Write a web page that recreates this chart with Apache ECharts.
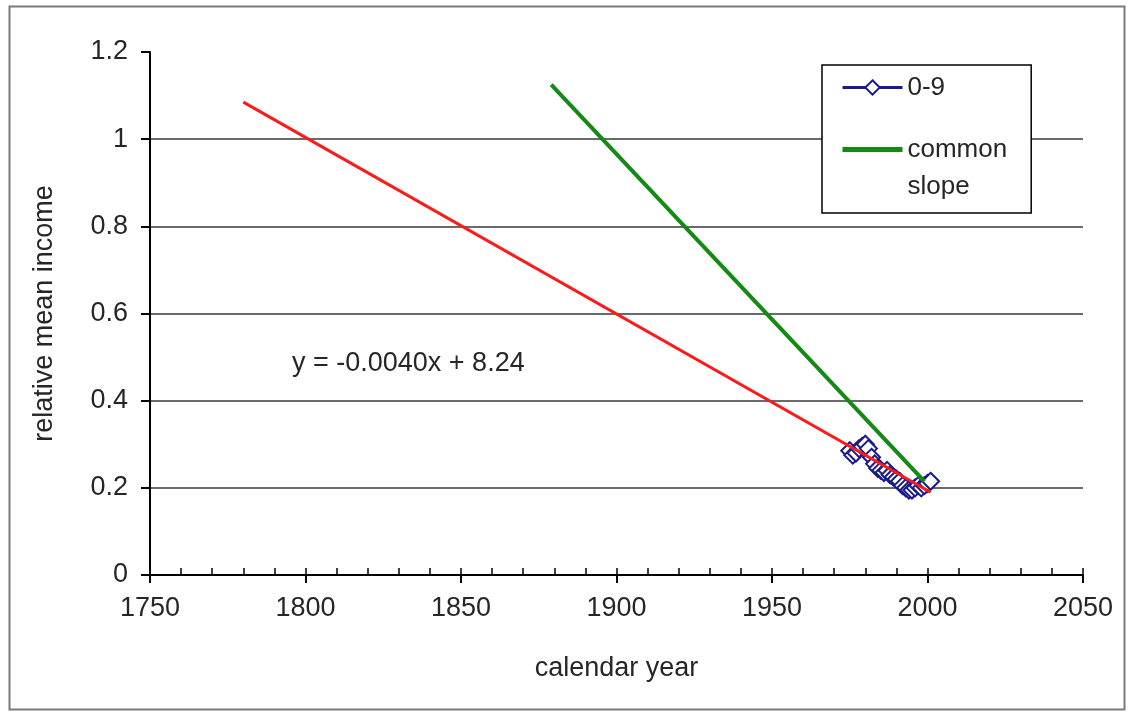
<!DOCTYPE html>
<html>
<head>
<meta charset="utf-8">
<script src="https://cdn.jsdelivr.net/npm/echarts@6/dist/echarts.min.js"></script>
<style>
html,body{margin:0;padding:0;background:#fff;}
#chart{width:1128px;height:712px;}
</style>
</head>
<body>
<div id="chart"></div>
<script>
// ---- data ----
const years09 = [1975,1976,1977,1978,1979,1980,1981,1982,1983,1984,1985,1986,1987,1988,1989,1990,1991,1992,1993,1994,1995,1996,1997,1998,1999,2000,2001];
const income09 = [0.285,0.275,0.28,0.29,0.295,0.30,0.29,0.27,0.255,0.245,0.24,0.235,0.24,0.23,0.225,0.22,0.215,0.205,0.20,0.195,0.195,0.20,0.205,0.20,0.205,0.21,0.215];
const fitYears = [1780, 2001];
const fitValues = [1.085, 0.19];
const commonYears = [1879, 1999];
const commonValues = [1.125, 0.215];
const equationText = 'y = -0.0040x + 8.24';
const seriesNames = ['0-9', 'common slope'];

const FONT = '"Liberation Sans", Arial, sans-serif';
const TXT = '#262626';
const NAVY = '#1a1a8a';
const GREEN = '#138a13';

const zip = (xs, ys) => xs.map((x, i) => [x, ys[i]]);

const chart = echarts.init(document.getElementById('chart'), null, {renderer: 'canvas'});
chart.setOption({
  animation: false,
  backgroundColor: '#fff',
  textStyle: {fontFamily: FONT},
  grid: {left: 150, right: 45, top: 52, bottom: 137, containLabel: false},
  xAxis: [{
    type: 'value', position: 'bottom', min: 1750, max: 2050, interval: 50,
    name: 'calendar year', nameLocation: 'middle', nameGap: 80,
    nameTextStyle: {fontSize: 27, color: TXT, fontFamily: FONT},
    axisLine: {onZero: false, lineStyle: {color: '#000', width: 2}},
    axisTick: {show: true, inside: false, length: 8, lineStyle: {color: '#000', width: 2}},
    axisLabel: {fontSize: 27, color: TXT, margin: 20, fontFamily: FONT, formatter: v => String(v)},
    splitLine: {show: false}
  }, {
    type: 'value', position: 'bottom', offset: 0, min: 1750, max: 2050, interval: 10,
    axisLine: {show: false},
    axisTick: {show: true, inside: true, length: 7, lineStyle: {color: '#000', width: 1.5}},
    axisLabel: {show: false},
    splitLine: {show: false}
  }],
  yAxis: {
    type: 'value', min: 0, max: 1.2, interval: 0.2,
    name: 'relative mean income', nameLocation: 'middle', nameGap: 92,
    nameTextStyle: {fontSize: 27, color: TXT, fontFamily: FONT},
    axisLine: {show: true, lineStyle: {color: '#000', width: 2}},
    axisTick: {show: true, inside: false, length: 9, lineStyle: {color: '#000', width: 2}},
    axisLabel: {fontSize: 27, color: TXT, margin: 22, fontFamily: FONT},
    splitLine: {show: true, showMinLine: false, showMaxLine: false, lineStyle: {color: '#6a6a6a', width: 2}}
  },
  legend: {
    orient: 'vertical', left: 822, top: 65,
    data: [
      {name: seriesNames[0], itemStyle: {color: '#fff', borderColor: NAVY, borderWidth: 2}, lineStyle: {width: 3, color: NAVY}},
      {name: seriesNames[1], itemStyle: {opacity: 0}, lineStyle: {width: 5, color: GREEN}}
    ],
    backgroundColor: '#fff',
    borderColor: '#000', borderWidth: 1.5,
    padding: [4, 24, 8, 18],
    itemGap: -12, itemWidth: 60, itemHeight: 18,
    formatter: n => n === 'common slope' ? '\u00a0\ncommon\nslope' : n,
    textStyle: {fontSize: 26, color: TXT, fontFamily: FONT, lineHeight: 37}
  },
  graphic: [{
    type: 'rect', left: 7, top: 4, silent: true, z: -10,
    shape: {width: 1115, height: 703},
    style: {fill: 'none', stroke: '#7a7a7a', lineWidth: 2}
  }, {
    type: 'text', left: 292, top: 350,
    style: {text: equationText, font: '27px ' + FONT, fill: TXT}
  }],
  series: [{
    name: seriesNames[0], type: 'line', xAxisIndex: 0,
    data: zip(years09, income09),
    symbol: 'diamond', symbolSize: 17,
    color: NAVY,
    lineStyle: {color: NAVY, width: 2},
    itemStyle: {color: '#fff', borderColor: NAVY, borderWidth: 2},
    z: 2
  }, {
    name: 'fit', type: 'line', xAxisIndex: 0,
    data: zip(fitYears, fitValues),
    symbol: 'none', lineStyle: {color: '#ff1a1a', width: 3},
    z: 3
  }, {
    name: seriesNames[1], type: 'line', xAxisIndex: 0,
    data: zip(commonYears, commonValues),
    symbol: 'none', color: GREEN, lineStyle: {color: GREEN, width: 4},
    z: 4
  }]
});
</script>
</body>
</html>
